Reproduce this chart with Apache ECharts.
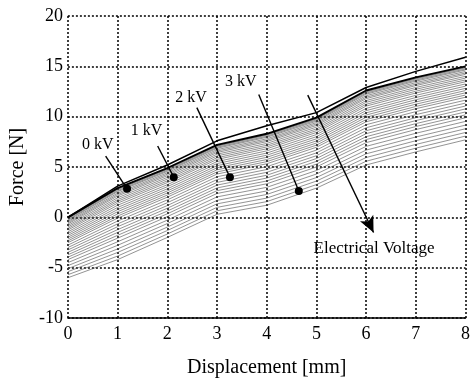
<!DOCTYPE html>
<html><head><meta charset="utf-8">
<script src="https://cdn.jsdelivr.net/npm/echarts@6/dist/echarts.min.js"></script>
<style>html,body{margin:0;padding:0;background:#fff}#c{width:473px;height:383px}</style>
</head><body><div id="c"></div>
<script>
// Displacement positions [mm]
const xValues = [0, 1, 2, 3, 4, 5, 6, 7, 8];
// Upper thin reference curve
const upperCurve = [0, 3.1, 5.2, 7.6, 9.1, 10.4, 12.9, 14.5, 15.9];
// Family of force curves as voltage rises (top = 0 kV, bottom = highest voltage)
const voltageCurves = [
  [0, 2.9, 4.9, 7.2, 8.3, 9.9, 12.6, 13.9, 15.0],
  [-0.06, 2.83, 4.83, 7.13, 8.23, 9.83, 12.53, 13.83, 14.93],
  [-0.12, 2.76, 4.76, 7.06, 8.16, 9.76, 12.45, 13.75, 14.85],
  [-0.21, 2.65, 4.66, 6.96, 8.05, 9.66, 12.34, 13.64, 14.74],
  [-0.30, 2.55, 4.56, 6.86, 7.95, 9.55, 12.23, 13.53, 14.64],
  [-0.42, 2.40, 4.42, 6.72, 7.80, 9.41, 12.08, 13.38, 14.49],
  [-0.54, 2.26, 4.28, 6.58, 7.66, 9.27, 11.93, 13.23, 14.34],
  [-0.66, 2.12, 4.14, 6.44, 7.52, 9.13, 11.79, 13.09, 14.20],
  [-0.81, 1.94, 3.97, 6.27, 7.34, 8.96, 11.60, 12.90, 14.01],
  [-0.96, 1.76, 3.80, 6.10, 7.16, 8.78, 11.42, 12.72, 13.83],
  [-1.11, 1.59, 3.62, 5.92, 6.99, 8.61, 11.23, 12.53, 13.65],
  [-1.26, 1.41, 3.45, 5.75, 6.81, 8.43, 11.05, 12.35, 13.47],
  [-1.44, 1.20, 3.24, 5.54, 6.60, 8.22, 10.82, 12.12, 13.25],
  [-1.62, 0.98, 3.04, 5.34, 6.38, 8.01, 10.60, 11.90, 13.03],
  [-1.80, 0.77, 2.83, 5.13, 6.17, 7.80, 10.38, 11.68, 12.81],
  [-1.98, 0.56, 2.62, 4.92, 5.96, 7.59, 10.16, 11.46, 12.59],
  [-2.16, 0.34, 2.42, 4.72, 5.74, 7.38, 9.94, 11.24, 12.37],
  [-2.34, 0.13, 2.21, 4.51, 5.53, 7.17, 9.71, 11.01, 12.15],
  [-2.52, -0.08, 2.00, 4.30, 5.32, 6.96, 9.49, 10.79, 11.93],
  [-2.76, -0.37, 1.73, 4.03, 5.03, 6.68, 9.20, 10.50, 11.64],
  [-3.00, -0.65, 1.45, 3.75, 4.75, 6.40, 8.90, 10.20, 11.35],
  [-3.24, -0.93, 1.17, 3.47, 4.47, 6.12, 8.60, 9.90, 11.06],
  [-3.48, -1.22, 0.90, 3.20, 4.18, 5.84, 8.31, 9.61, 10.77],
  [-3.72, -1.50, 0.62, 2.92, 3.90, 5.56, 8.01, 9.31, 10.47],
  [-3.96, -1.79, 0.35, 2.65, 3.61, 5.28, 7.72, 9.02, 10.18],
  [-4.20, -2.07, 0.07, 2.37, 3.33, 5.00, 7.42, 8.72, 9.89],
  [-4.50, -2.43, -0.28, 2.03, 2.98, 4.65, 7.05, 8.35, 9.53],
  [-4.80, -2.78, -0.62, 1.68, 2.62, 4.30, 6.68, 7.98, 9.16],
  [-5.10, -3.14, -0.97, 1.34, 2.27, 3.95, 6.31, 7.61, 8.80],
  [-5.40, -3.49, -1.31, 0.99, 1.91, 3.60, 5.94, 7.24, 8.43],
  [-5.70, -3.85, -1.66, 0.65, 1.56, 3.25, 5.57, 6.87, 8.07],
  [-6.00, -4.20, -2.00, 0.30, 1.20, 2.90, 5.20, 6.50, 7.70]
];
// Annotations (data coordinates)
const kvLabels = ['0 kV', '1 kV', '2 kV', '3 kV'];
const kvLabelPos = [[0.60, 7.17], [1.58, 8.56], [2.48, 11.91], [3.48, 13.49]];
const leaderStart = [[0.76, 6.09], [1.806, 7.09], [2.594, 10.90], [3.84, 12.21]];
const dotPos = [[1.19, 2.83], [2.13, 3.99], [3.26, 3.99], [4.646, 2.61]];
const arrowStart = [4.826, 12.14];
const arrowEnd = [6.15, -1.5];
const arrowText = 'Electrical Voltage';
const arrowTextPos = [6.16, -3.09];

const FONT = 'Liberation Serif';
const pair = arr => xValues.map((x, i) => [x, arr[i]]);
const series = [];
voltageCurves.forEach((c, k) => {
  if (k === 0) return;
  series.push({type: 'line', data: pair(c), showSymbol: false, silent: true,
    lineStyle: {color: '#4a4a4a', width: 0.6}, z: 2});
});
series.push({type: 'line', data: pair(voltageCurves[0]), showSymbol: false, silent: true,
  lineStyle: {color: '#000', width: 1.9}, z: 3});
series.push({type: 'line', data: pair(upperCurve), showSymbol: false, silent: true,
  lineStyle: {color: '#000', width: 1.5}, z: 3});
leaderStart.forEach((s, i) => {
  series.push({type: 'line', data: [s, dotPos[i]], showSymbol: false, silent: true,
    lineStyle: {color: '#000', width: 1.4}, z: 4});
});
series.push({type: 'scatter', data: dotPos, symbol: 'circle', symbolSize: 8,
  itemStyle: {color: '#000', opacity: 1}, silent: true, z: 5,
  markLine: {silent: true, symbol: ['none', 'arrow'], symbolSize: [11, 16], animation: false,
    lineStyle: {color: '#000', width: 1.4, type: 'solid', opacity: 1}, label: {show: false},
    data: [[{coord: arrowStart}, {coord: arrowEnd}]]}});
series.push({type: 'scatter', symbolSize: 0, silent: true, z: 6,
  itemStyle: {opacity: 1},
  data: kvLabels.map((t, i) => ({name: t, value: kvLabelPos[i]}))
    .concat([{name: arrowText, value: arrowTextPos, label: {fontSize: 17}}]),
  label: {show: true, position: 'inside', formatter: p => p.name, color: '#000',
    textBorderWidth: 0, fontFamily: FONT, fontSize: 16}});

const chart = echarts.init(document.getElementById('c'), null, {renderer: 'canvas'});
chart.setOption({
  animation: false,
  backgroundColor: '#fff',
  grid: {left: 67, right: 6, top: 16, bottom: 63},
  xAxis: {type: 'value', min: 0, max: 8, interval: 1,
    name: 'Displacement [mm]', nameLocation: 'middle', nameGap: 40,
    nameTextStyle: {fontFamily: FONT, fontSize: 20, color: '#000'},
    axisLine: {show: true, onZero: false, lineStyle: {color: '#000', width: 1.5}},
    axisTick: {show: false},
    axisLabel: {fontFamily: FONT, fontSize: 18, color: '#000', margin: 7},
    splitLine: {show: true, lineStyle: {color: '#000', width: 1.5, type: [2, 2]}}},
  yAxis: {type: 'value', min: -10, max: 20, interval: 5,
    name: 'Force [N]', nameLocation: 'middle', nameGap: 34, nameRotate: 90,
    nameTextStyle: {fontFamily: FONT, fontSize: 20, color: '#000'},
    axisLine: {show: false},
    axisTick: {show: false},
    axisLabel: {fontFamily: FONT, fontSize: 18, color: '#000', margin: 5},
    splitLine: {show: true, lineStyle: {color: '#000', width: 1.5, type: [2, 2]}}},
  series: series
});
</script></body></html>
